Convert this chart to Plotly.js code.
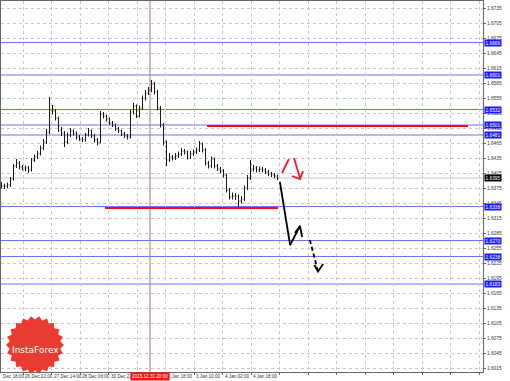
<!DOCTYPE html>
<html><head><meta charset="utf-8">
<script src="https://cdn.plot.ly/plotly-3.0.1.min.js"></script>
<style>html,body{margin:0;padding:0;background:#fff}#chart{width:510px;height:381px}</style>
</head><body><div id="chart"></div>
<script>
// ---- data ----
const opens = [1.6383,1.6379,1.6379,1.6381,1.6393,1.6419,1.6425,1.6417,1.6415,1.6415,
 1.6411,1.6431,1.6437,1.6443,1.6455,1.6467,1.6487,1.6531,1.6529,1.6515,
 1.6491,1.6485,1.6467,1.6481,1.6489,1.6485,1.6477,1.6473,1.6471,1.6481,
 1.6489,1.6479,1.6471,1.6467,1.6523,1.6519,1.6513,1.6505,1.6501,1.6493,
 1.6489,1.6483,1.6479,1.6477,1.6527,1.6539,1.6519,1.6535,1.6555,1.6565,
 1.6571,1.6583,1.6567,1.6535,1.6501,1.6467,1.6431,1.6437,1.6435,1.6439,
 1.6443,1.6449,1.6447,1.6437,1.6443,1.6447,1.6451,1.6463,1.6451,1.6425,
 1.6419,1.6433,1.6419,1.6413,1.6409,1.6401,1.6371,1.6357,1.6359,1.6359,
 1.6349,1.6353,1.6375,1.6395,1.6413,1.6415,1.6411,1.6413,1.6411,1.6407,
 1.6403,1.6401,1.6399];
const closes = [1.6379,1.6379,1.6381,1.6393,1.6419,1.6425,1.6417,1.6415,1.6415,1.6411,
 1.6431,1.6437,1.6443,1.6455,1.6467,1.6487,1.6531,1.6529,1.6515,1.6491,
 1.6485,1.6467,1.6481,1.6489,1.6485,1.6477,1.6473,1.6471,1.6481,1.6489,
 1.6479,1.6471,1.6467,1.6523,1.6519,1.6513,1.6505,1.6501,1.6493,1.6489,
 1.6483,1.6479,1.6477,1.6527,1.6539,1.6519,1.6535,1.6555,1.6565,1.6571,
 1.6583,1.6567,1.6535,1.6501,1.6467,1.6431,1.6437,1.6435,1.6439,1.6443,
 1.6449,1.6447,1.6437,1.6443,1.6447,1.6451,1.6463,1.6451,1.6425,1.6419,
 1.6433,1.6419,1.6413,1.6409,1.6401,1.6371,1.6357,1.6359,1.6359,1.6349,
 1.6353,1.6375,1.6395,1.6413,1.6415,1.6411,1.6413,1.6411,1.6407,1.6403,
 1.6401,1.6399,1.6395];
const highs = [1.6387,1.6384,1.6386,1.6397,1.6423,1.6433,1.6429,1.6421,1.6420,1.6419,
 1.6435,1.6442,1.6449,1.6460,1.6473,1.6493,1.6557,1.6541,1.6533,1.6518,
 1.6497,1.6489,1.6486,1.6495,1.6492,1.6488,1.6481,1.6477,1.6485,1.6495,
 1.6492,1.6483,1.6475,1.6529,1.6527,1.6522,1.6516,1.6509,1.6504,1.6497,
 1.6492,1.6487,1.6483,1.6531,1.6545,1.6542,1.6540,1.6560,1.6571,1.6577,
 1.6591,1.6587,1.6571,1.6539,1.6505,1.6470,1.6445,1.6441,1.6445,1.6448,
 1.6455,1.6453,1.6450,1.6449,1.6452,1.6456,1.6469,1.6466,1.6455,1.6429,
 1.6438,1.6436,1.6423,1.6417,1.6413,1.6404,1.6375,1.6366,1.6365,1.6362,
 1.6359,1.6380,1.6401,1.6431,1.6421,1.6419,1.6418,1.6417,1.6415,1.6411,
 1.6407,1.6405,1.6402];
const lows = [1.6374,1.6373,1.6375,1.6377,1.6390,1.6415,1.6412,1.6410,1.6409,1.6405,
 1.6408,1.6427,1.6433,1.6440,1.6451,1.6463,1.6483,1.6522,1.6510,1.6487,
 1.6479,1.6457,1.6463,1.6477,1.6480,1.6472,1.6469,1.6467,1.6468,1.6478,
 1.6475,1.6466,1.6460,1.6464,1.6514,1.6508,1.6501,1.6497,1.6489,1.6485,
 1.6479,1.6475,1.6472,1.6474,1.6522,1.6515,1.6516,1.6531,1.6550,1.6561,
 1.6567,1.6562,1.6530,1.6496,1.6460,1.6419,1.6427,1.6430,1.6431,1.6435,
 1.6439,1.6442,1.6432,1.6433,1.6439,1.6443,1.6447,1.6446,1.6420,1.6414,
 1.6415,1.6414,1.6409,1.6404,1.6396,1.6366,1.6352,1.6352,1.6351,1.6335,
 1.6344,1.6349,1.6371,1.6391,1.6408,1.6406,1.6407,1.6406,1.6403,1.6399,
 1.6397,1.6394,1.6391];
const barIndex = opens.map((_, i) => i);

const levelPrices = [1.6666, 1.6601, 1.6532, 1.6501, 1.6481, 1.6338, 1.6270, 1.6238, 1.6183];
const currentPrice = 1.6395;
const yTickVals = [1.6015,1.6045,1.6075,1.6105,1.6135,1.6165,1.6195,1.6225,1.6255,1.6285,1.6315,1.6345,1.6375,1.6405,1.6435,1.6465,1.6495,1.6525,1.6555,1.6585,1.6615,1.6645,1.6675,1.6705,1.6735];
const xTickBars = [-2.2, 7.2, 16.7, 26.2, 35.7, 45.2, 54.8, 64.3, 73.8, 83.3, 92.8, 102.3, 111.8, 121.3, 130.8, 140.3, 149.8, 159.3];
const xTickLabels = ["Dec 18:00","26 Dec 22:00","27 Dec 14:00","28 Dec 06:00","30 Dec 22:00","","2 Jan 18:00","3 Jan 10:00","4 Jan 02:00","4 Jan 18:00","","","","","","","",""];
const markerBar = 49.5;
const markerLabel = "2015.12.31 20:00";

// resistance / support segments (bar from, bar to, price)
const redUpper = {x: [68.5, 155.5], y: [1.6499, 1.6499]};
const redLower = {x: [34.5, 92.2], y: [1.6335, 1.6335]};
// forecast arrows
const arrow1X = [92.8, 96.2, 99.5];
const arrow1Y = [1.6387, 1.6261, 1.6299];
const arrow1HeadX = [97.8, 99.5, 100.2];
const arrow1HeadY = [1.6285, 1.6299, 1.6277];
const arrow2X = [102.8, 105.5];
const arrow2Y = [1.6271, 1.6208];
const arrow2HeadX = [104.3, 105.5, 107.2];
const arrow2HeadY = [1.6221, 1.6208, 1.6223];
const redMarkAX = [93.5, 95.8];
const redMarkAY = [1.6405, 1.6433];
const redMarkBX = [97.5, 99.5];
const redMarkBY = [1.6435, 1.6395];
const redMarkCX = [96.8, 99.5, 100.5];
const redMarkCY = [1.6399, 1.6393, 1.6409];

// ---- layout ----
const ML = 1, MR = 27, MT = 1, MB = 9, W = 510, H = 381;
const PW = W - ML - MR, PH = H - MT - MB;
const px2paperX = px => (px - ML) / PW;
const px2paperY = py => 1 - (py - MT) / PH;
const FONT = 'Liberation Sans';

const traces = [
  {type: 'ohlc', x: barIndex, open: opens, high: highs, low: lows, close: closes,
   increasing: {line: {color: '#1a1a1a', width: 1}},
   decreasing: {line: {color: '#1a1a1a', width: 1}},
   tickwidth: 0.3, hoverinfo: 'skip', showlegend: false},
  {type: 'scatter', mode: 'lines', x: redUpper.x, y: redUpper.y, line: {color: '#f01010', width: 2}, hoverinfo: 'skip'},
  {type: 'scatter', mode: 'lines', x: redLower.x, y: redLower.y, line: {color: '#f01010', width: 2}, hoverinfo: 'skip'},
  {type: 'scatter', mode: 'lines', x: arrow1X, y: arrow1Y, line: {color: '#000', width: 1.8}, hoverinfo: 'skip'},
  {type: 'scatter', mode: 'lines', x: arrow1HeadX, y: arrow1HeadY, line: {color: '#000', width: 1.8}, hoverinfo: 'skip'},
  {type: 'scatter', mode: 'lines', x: arrow2X, y: arrow2Y, line: {color: '#000', width: 1.8, dash: '4px,3px'}, hoverinfo: 'skip'},
  {type: 'scatter', mode: 'lines', x: arrow2HeadX, y: arrow2HeadY, line: {color: '#000', width: 1.8}, hoverinfo: 'skip'},
  {type: 'scatter', mode: 'lines', x: redMarkAX, y: redMarkAY, line: {color: '#ee1c24', width: 1.8}, hoverinfo: 'skip'},
  {type: 'scatter', mode: 'lines', x: redMarkBX, y: redMarkBY, line: {color: '#ee1c24', width: 1.8}, hoverinfo: 'skip'},
  {type: 'scatter', mode: 'lines', x: redMarkCX, y: redMarkCY, line: {color: '#ee1c24', width: 1.8}, hoverinfo: 'skip'}
];

const shapes = [];
levelPrices.forEach(p => shapes.push({type: 'line', xref: 'paper', x0: 0, x1: 1, yref: 'y', y0: p, y1: p,
  line: {color: '#7070f0', width: 1}, layer: 'below'}));
shapes.push({type: 'line', xref: 'paper', x0: 0, x1: 1, yref: 'y', y0: currentPrice, y1: currentPrice,
  line: {color: '#c4c4c4', width: 1}, layer: 'below'});
shapes.push({type: 'line', xref: 'x', x0: markerBar, x1: markerBar, yref: 'paper', y0: 0, y1: 1,
  line: {color: '#b07070', width: 1}, layer: 'below'});

// InstaForex badge (decorative)
(function () {
  const cx = 35, cy = 345, ro = 29, ri = 25.5, n = 22;
  let d = '';
  for (let k = 0; k < 2 * n; k++) {
    const r = k % 2 === 0 ? ro : ri;
    const a = Math.PI * k / n;
    const X = px2paperX(cx + r * Math.cos(a)), Y = px2paperY(cy + r * Math.sin(a));
    d += (k === 0 ? 'M ' : ' L ') + X.toFixed(5) + ' ' + Y.toFixed(5);
  }
  d += ' Z';
  shapes.push({type: 'path', xref: 'paper', yref: 'paper', path: d, fillcolor: '#ea3b32',
    line: {color: '#ea3b32', width: 0}, layer: 'above'});
})();

const annotations = [];
xTickBars.forEach((b, i) => {
  if (!xTickLabels[i]) return;
  const inRange = b >= -0.1667;
  annotations.push({xref: inRange ? 'x' : 'paper', x: inRange ? b : 0, yref: 'paper', y: 0,
    xanchor: 'left', yanchor: 'top', yshift: 0,
    text: xTickLabels[i], showarrow: false, font: {size: 4.6, color: '#333', family: FONT}});
});
annotations.push({xref: 'x', x: markerBar, yref: 'paper', y: 0, xanchor: 'center', yanchor: 'top', yshift: 0,
  text: markerLabel, showarrow: false, bgcolor: '#ff1010', borderpad: 1,
  font: {size: 4.6, color: '#fff', family: FONT}});
levelPrices.forEach(p => annotations.push({xref: 'paper', x: 1, xshift: 1, yref: 'y', y: p, xanchor: 'left', yanchor: 'middle',
  text: p.toFixed(4), showarrow: false, bgcolor: '#1a1aff', borderpad: 0.5,
  font: {size: 4.8, color: '#fff', family: FONT}}));
annotations.push({xref: 'paper', x: 1, xshift: 1, yref: 'y', y: currentPrice, xanchor: 'left', yanchor: 'middle',
  text: currentPrice.toFixed(4), showarrow: false, bgcolor: '#000', borderpad: 0.5,
  font: {size: 4.8, color: '#fff', family: FONT}});
annotations.push({xref: 'paper', yref: 'paper', x: px2paperX(35), y: px2paperY(350), xanchor: 'center', yanchor: 'middle',
  text: 'InstaForex', showarrow: false, font: {size: 9, color: '#fff', family: 'DejaVu Sans'}});

const layout = {
  width: W, height: H,
  margin: {l: ML, r: MR, t: MT, b: MB, pad: 0},
  paper_bgcolor: '#fff', plot_bgcolor: '#fff',
  showlegend: false,
  xaxis: {range: [-0.1667, 160.5], tickmode: 'array', tickvals: xTickBars, showticklabels: false,
    showgrid: true, gridcolor: '#c8c8c8', griddash: 'dot', gridwidth: 1, zeroline: false,
    showline: true, linecolor: '#666', linewidth: 1, mirror: true,
    ticks: 'outside', ticklen: 2, tickcolor: '#666', rangeslider: {visible: false}, fixedrange: true},
  yaxis: {range: [1.6007, 1.6749], side: 'right', tickmode: 'array', tickvals: yTickVals,
    ticktext: yTickVals.map(v => v.toFixed(4)),
    tickfont: {size: 4.8, color: '#333', family: FONT},
    showgrid: true, gridcolor: '#c8c8c8', griddash: 'dot', gridwidth: 1, zeroline: false,
    showline: true, linecolor: '#666', linewidth: 1, mirror: true,
    ticks: 'outside', ticklen: 2, tickcolor: '#666', fixedrange: true},
  shapes: shapes,
  annotations: annotations
};

Plotly.newPlot('chart', traces, layout, {staticPlot: true, displayModeBar: false});
</script>
</body></html>
